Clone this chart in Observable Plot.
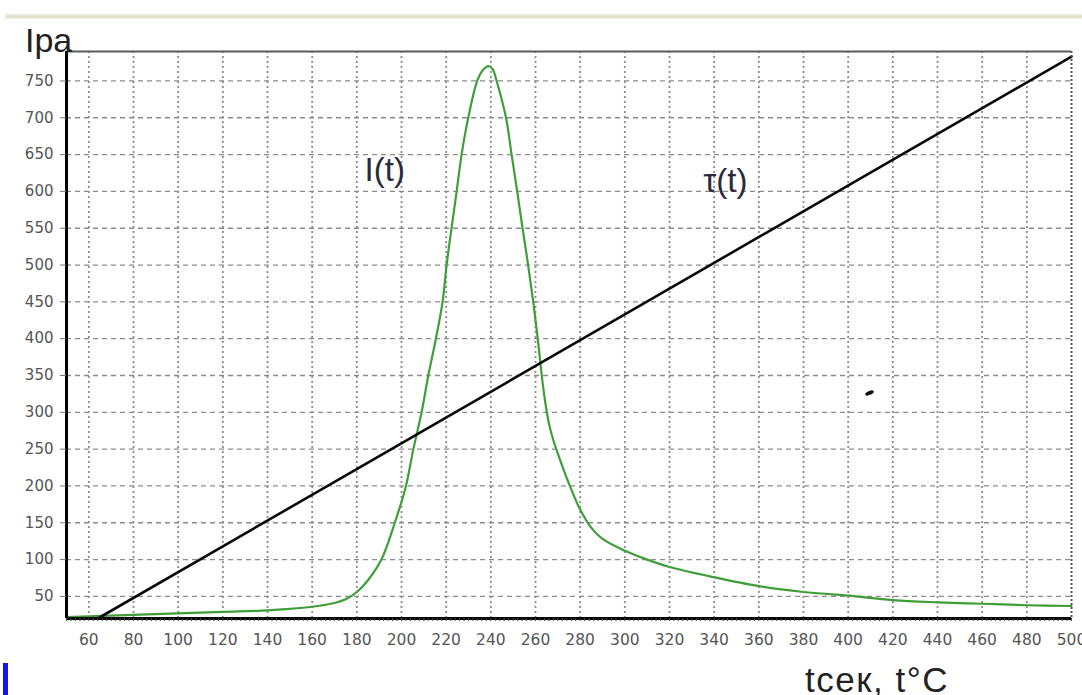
<!DOCTYPE html>
<html>
<head>
<meta charset="utf-8">
<script src="https://cdn.jsdelivr.net/npm/d3@7"></script>
<script src="https://cdn.jsdelivr.net/npm/@observablehq/plot@0.6"></script>
<style>
  html, body { margin: 0; padding: 0; background: #fff; }
  #wrap { position: relative; width: 1082px; height: 695px; overflow: hidden; font-family: "Liberation Sans", Arial, sans-serif; }
  #chart { position: absolute; left: 0; top: 0; }
  .deco { position: absolute; }
  .lbl { position: absolute; color: #222; white-space: nowrap; line-height: 1; }
</style>
</head>
<body>
<div id="wrap">
  <div id="chart"></div>
  <div class="deco" style="left:5px; top:14px; width:1077px; height:5px; background:linear-gradient(#f1eee6,#e2ddcf,#f1eee6);"></div>
  <div class="deco" style="left:3px; top:663px; width:5px; height:32px; background:#1414e6;"></div>
  <div class="deco" style="left:865px; top:391px; width:9px; height:4px; background:#111; border-radius:50%; transform:rotate(-22deg);"></div>
  <div class="lbl" style="left:25px; top:23px; font-size:34px;">Ipa</div>
  <div class="lbl" style="left:805px; top:662px; font-size:35px; letter-spacing:1.5px;">tсек, t°C</div>
</div>
<script>
// Temperature / time axis (t) and intensity I(t)
const tValues = [50, 60, 80, 100, 120, 140, 150, 160, 170, 175, 180, 185, 191, 197, 202, 205.3, 209, 212, 215.4, 218.4, 220.2, 222.4, 224.7, 226.9, 229.9, 233.9, 236.5, 239.3, 241, 242.6, 246.8, 249.3, 251.8, 254.2, 256.7, 259, 261, 262.8, 264.3, 266, 268, 270, 275, 280, 285, 290, 300, 310, 320, 340, 360, 380, 400, 420, 440, 460, 480, 500];
const iValues = [22, 23, 25, 27, 29, 31, 33, 36, 41, 46, 56, 72, 100, 150, 200, 250, 300, 350, 400, 450, 500, 550, 600, 650, 700, 750, 765, 770, 765, 750, 700, 650, 600, 550, 500, 450, 400, 350, 315, 285, 262, 244, 203, 168, 143, 128, 112, 100, 90, 76, 64, 56, 51, 45, 42, 40, 38, 37];

// Straight line tau(t)
const tauT = [64, 500];
const tauValues = [20, 783];

// Axis ticks
const xTicks = [60, 80, 100, 120, 140, 160, 180, 200, 220, 240, 260, 280, 300, 320, 340, 360, 380, 400, 420, 440, 460, 480, 500];
const yTicks = [50, 100, 150, 200, 250, 300, 350, 400, 450, 500, 550, 600, 650, 700, 750];

// Curve labels
const labelText = ["I(t)", "τ(t)"];
const labelT = [192.5, 345];
const labelV = [628, 614];

const iData = tValues.map((t, k) => ({t, v: iValues[k]}));
const tauData = tauT.map((t, k) => ({t, v: tauValues[k]}));
const labels = labelText.map((s, k) => ({s, t: labelT[k], v: labelV[k]}));
const minorTicks = d3.range(50, 501, 2);

const chart = Plot.plot({
  width: 1082,
  height: 695,
  marginLeft: 66,
  marginRight: 11,
  marginTop: 51,
  marginBottom: 77,
  x: {domain: [50, 500], axis: null},
  y: {domain: [20, 790], axis: null},
  style: {fontFamily: "DejaVu Sans, sans-serif", background: "transparent", overflow: "visible"},
  marks: [
    Plot.gridY(yTicks, {stroke: "#8c8c8c", strokeOpacity: 1, strokeWidth: 1.3, strokeDasharray: "5,4"}),
    Plot.gridX(xTicks.filter(d => d < 500), {stroke: "#8c8c8c", strokeOpacity: 1, strokeWidth: 1.8, strokeDasharray: "2,3"}),
    Plot.line(iData, {x: "t", y: "v", stroke: "#3f9e3a", strokeWidth: 2.2, curve: "catmull-rom"}),
    Plot.line(tauData, {x: "t", y: "v", stroke: "#0a0a0a", strokeWidth: 2.6}),
    Plot.ruleY([790], {stroke: "#5a5a5a", strokeWidth: 2}),
    Plot.ruleX([500], {stroke: "#555", strokeWidth: 2, strokeDasharray: "2,2"}),
    Plot.ruleX([50], {stroke: "#000", strokeWidth: 3}),
    Plot.ruleY([20], {stroke: "#000", strokeWidth: 3}),
    Plot.axisX({ticks: minorTicks, tickFormat: () => "", label: null, tickSize: 3, stroke: "#444", strokeWidth: 1}),
    Plot.axisX({ticks: xTicks, label: null, tickSize: 0, tickPadding: 15, fontSize: 15.5, fill: "#555", tickFormat: d => String(d)}),
    Plot.axisY({ticks: yTicks, label: null, tickSize: 6, tickPadding: 7, fontSize: 15, fill: "#555", stroke: "#777", tickFormat: d => String(d)}),
    Plot.text(labels, {x: "t", y: "v", text: "s", fontSize: 33, fill: "#2a2a3a", fontFamily: "Liberation Sans, Arial, sans-serif"})
  ]
});
document.getElementById("chart").appendChild(chart);
</script>
</body>
</html>
